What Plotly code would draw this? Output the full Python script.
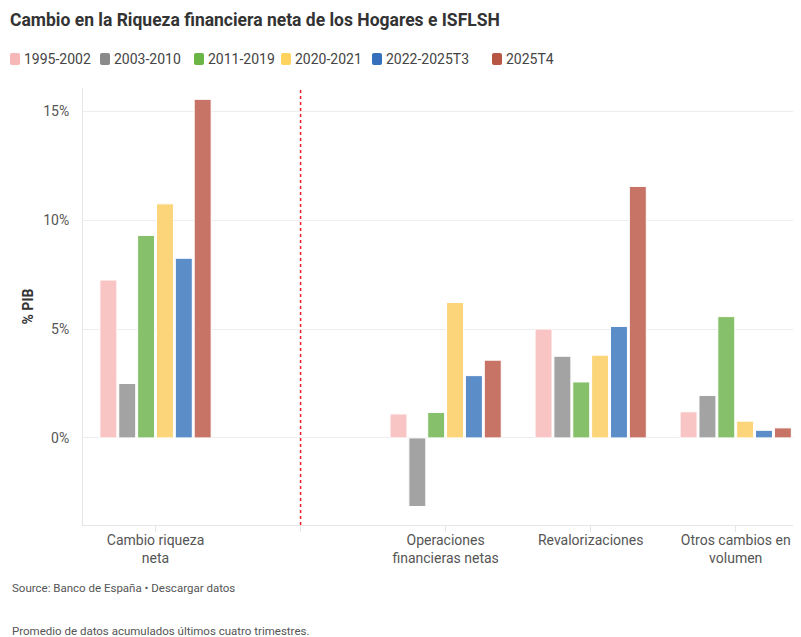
import plotly.graph_objects as go

categories = ["Cambio riqueza<br>neta", " ", "Operaciones<br>financieras netas",
              "Revalorizaciones", "Otros cambios en<br>volumen"]
series_names = ["1995-2002", "2003-2010", "2011-2019", "2020-2021", "2022-2025T3", "2025T4"]
v_1995_2002 = [7.25, None, 1.1, 5.0, 1.2]
v_2003_2010 = [2.5, None, -3.15, 3.75, 1.95]
v_2011_2019 = [9.3, None, 1.17, 2.57, 5.57]
v_2020_2021 = [10.75, None, 6.22, 3.8, 0.77]
v_2022_2025T3 = [8.25, None, 2.86, 5.12, 0.35]
v_2025T4 = [15.55, None, 3.57, 11.55, 0.46]
bar_colors = ["#f8c4c4", "#a3a3a3", "#86c06a", "#fcd57b", "#5b8dc8", "#c77466"]
swatch_colors = ["#f7b7b7", "#8a8a8a", "#6ab545", "#ffd35e", "#3670bd", "#b85644"]
ytick_vals = [0, 5, 10, 15]
ytick_text = ["0%", "5%", "10%", "15%"]

series_values = [v_1995_2002, v_2003_2010, v_2011_2019, v_2020_2021, v_2022_2025T3, v_2025T4]

# page offset (body margin) compensation
OFF = 8
W, H = 801 - OFF, 637 - OFF
ML, MR, MT, MB = 83 - OFF, 0, 88 - OFF, 112
PW = W - ML - MR
PH = H - MT - MB


def px_x(X):  # page x -> paper
    return (X - 83) / PW


def px_y(Y):  # page y -> paper
    return (525 - Y) / PH


fig = go.Figure()
for name, vals, col in zip(series_names, series_values, bar_colors):
    fig.add_trace(go.Bar(
        x=categories, y=vals, name=name,
        marker=dict(color=col, line=dict(color="white", width=1)),
        hovertemplate="%{y:.2f}%<extra>" + name + "</extra>",
    ))

fig.update_layout(
    width=W, height=H,
    barmode="group", bargap=0.22, bargroupgap=0.1,
    plot_bgcolor="white", paper_bgcolor="white",
    font=dict(family="Roboto", size=14, color="#444"),
    margin=dict(l=ML, r=MR, t=MT, b=MB),
    title=dict(
        text="<b>Cambio en la Riqueza financiera neta de los Hogares e ISFLSH</b>",
        font=dict(family="Roboto", size=17.5, color="#333"),
        x=(10 - OFF) / W, xref="container", xanchor="left",
        y=1 - (20 - OFF) / H, yref="container", yanchor="middle",
    ),
    showlegend=False,
    xaxis=dict(
        type="category", range=[-0.5, 4.45],
        showgrid=False, showline=True, linecolor="#e6e6e6", linewidth=1,
        ticks="outside", ticklen=6, tickcolor="#e6e6e6",
        tickfont=dict(size=14, color="#555"),
        ticklabelstandoff=-4,
        fixedrange=True,
    ),
    yaxis=dict(
        range=[-4.0, 16.07],
        tickvals=ytick_vals, ticktext=ytick_text,
        showgrid=True, gridcolor="#ededed", gridwidth=1,
        zeroline=False, showline=True, linecolor="#e6e6e6",
        tickfont=dict(size=14, color="#555"),
        ticklabelstandoff=10,
        title=dict(text="<b>% PIB</b>", font=dict(size=14, color="#333"), standoff=6),
        fixedrange=True,
    ),
)

# separator line
fig.add_shape(type="line", xref="x", yref="paper", x0=1, x1=1, y0=0, y1=px_y(89),
              line=dict(color="#ee1c25", width=1.5, dash="dot"))

# legend (swatch + label) along the top
legend_swatch_x = [10, 100, 194, 281, 372, 492]
sw_w, sw_h, r = 10, 12, 2
for name, col, sx in zip(series_names, swatch_colors, legend_swatch_x):
    x0, x1 = px_x(sx), px_x(sx + sw_w)
    y0, y1 = px_y(65), px_y(53)
    rx, ry = r / PW, r / PH
    path = (f"M {x0+rx},{y0} L {x1-rx},{y0} Q {x1},{y0} {x1},{y0+ry} "
            f"L {x1},{y1-ry} Q {x1},{y1} {x1-rx},{y1} L {x0+rx},{y1} "
            f"Q {x0},{y1} {x0},{y1-ry} L {x0},{y0+ry} Q {x0},{y0} {x0+rx},{y0} Z")
    fig.add_shape(type="path", xref="paper", yref="paper", path=path,
                  fillcolor=col, line=dict(width=0))
    fig.add_annotation(text=name, xref="paper", yref="paper",
                       x=px_x(sx + 12), xanchor="left", y=px_y(59), yanchor="middle",
                       showarrow=False, font=dict(size=14, color="#444"))

fig.add_annotation(text="Source: Banco de España • Descargar datos",
                   xref="paper", yref="paper", x=px_x(10), xanchor="left",
                   y=px_y(588), yanchor="middle", showarrow=False,
                   font=dict(size=11.5, color="#555"))
fig.add_annotation(text="Promedio de datos acumulados últimos cuatro trimestres.",
                   xref="paper", yref="paper", x=px_x(10), xanchor="left",
                   y=px_y(631), yanchor="middle", showarrow=False,
                   font=dict(size=11.5, color="#555"))

fig.write_html("out.html", config={"displayModeBar": False})
